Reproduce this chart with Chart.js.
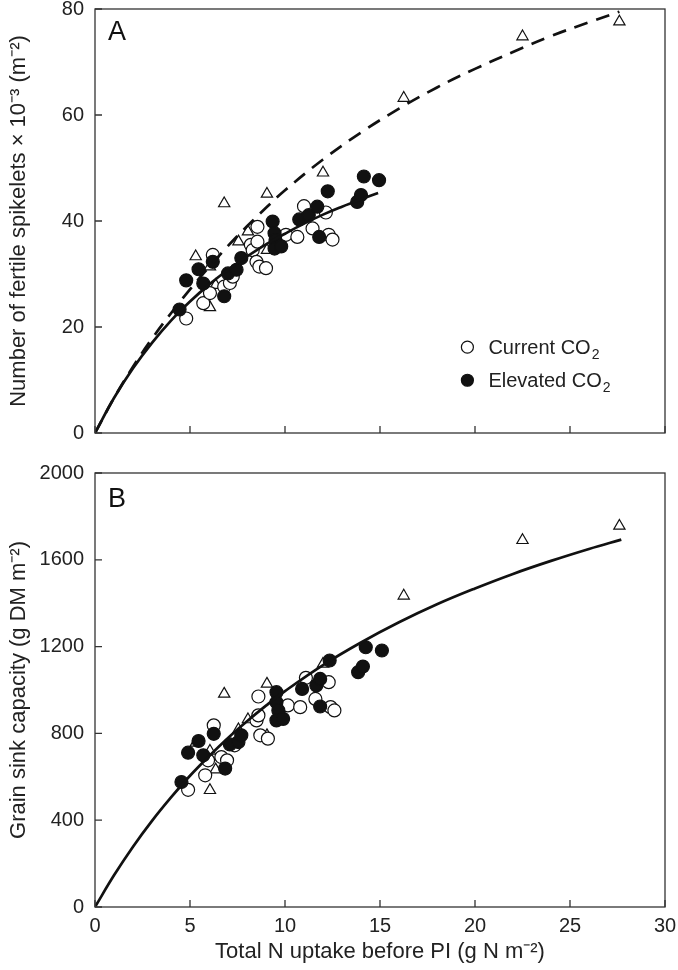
<!DOCTYPE html>
<html>
<head>
<meta charset="utf-8">
<script src="https://cdn.jsdelivr.net/npm/chart.js@4.4.0/dist/chart.umd.min.js"></script>
<style>
  body { margin: 0; background: #fff; }
  canvas { display: block; }
</style>
</head>
<body>
<canvas id="chart-a" width="678" height="460"></canvas>
<canvas id="chart-b" width="678" height="510"></canvas>
<script>
// axis ticks
var xTicks = [0, 5, 10, 15, 20, 25, 30];
var spikeTicks = [0, 20, 40, 60, 80];
var sinkTicks = [0, 400, 800, 1200, 1600, 2000];

// panel A - fertile spikelets (x10^-3 m-2)
var curNA = [4.8, 5.7, 6.05, 6.2, 6.8, 7.1, 7.25, 8.2, 8.3, 8.5, 8.55, 8.55, 8.65, 9.0, 10.05, 10.65, 11.0, 11.45, 12.15, 12.3, 12.5];
var curSpike = [21.6, 24.5, 26.4, 33.6, 27.6, 28.3, 29.5, 35.5, 34.5, 32.3, 38.9, 36.1, 31.4, 31.1, 37.4, 37.0, 42.8, 38.6, 41.6, 37.4, 36.5];
var elvNA = [4.45, 4.8, 5.45, 5.7, 6.2, 6.8, 7.0, 7.45, 7.7, 9.35, 9.45, 9.5, 9.45, 9.8, 10.75, 11.25, 11.7, 11.8, 12.25, 13.8, 14.0, 14.15, 14.95];
var elvSpike = [23.3, 28.8, 30.9, 28.2, 32.3, 25.8, 30.1, 30.8, 33.0, 39.9, 37.7, 36.4, 34.8, 35.2, 40.3, 41.1, 42.7, 37.0, 45.6, 43.6, 44.9, 48.4, 47.7];
var triNA = [5.3, 6.05, 6.05, 6.35, 6.8, 7.55, 8.05, 9.05, 9.05, 12.0, 16.25, 22.5, 27.6];
var triSpike = [33.3, 31.4, 23.7, 27.9, 43.3, 36.1, 38.0, 45.1, 34.5, 49.1, 63.2, 74.8, 77.6];

// fitted curves
var fitNA = [0, 1, 2, 3, 4, 5, 6, 7, 8, 9, 10, 11, 12, 13, 14, 14.9];
var fitSpike = [0, 6.6, 12.2, 17.0, 21.2, 24.8, 28.0, 30.8, 33.3, 35.6, 37.6, 39.5, 41.2, 42.7, 44.1, 45.3];
var allNA = [0, 1, 2, 3, 4, 5, 6, 7, 8, 9, 10, 12, 14, 16, 18, 20, 22, 24, 26, 27.6];
var allSpike = [0, 6.6, 12.5, 17.8, 22.6, 27.1, 31.3, 35.3, 39.0, 42.5, 45.8, 51.6, 56.7, 61.2, 65.2, 68.7, 71.9, 74.9, 77.5, 79.5];

// panel B - grain sink capacity (g DM m-2)
var curNB = [4.9, 5.8, 5.95, 6.25, 6.65, 6.95, 7.35, 8.5, 8.6, 8.6, 8.7, 9.1, 10.15, 10.8, 11.1, 11.6, 12.3, 12.4, 12.6];
var curSink = [540, 607, 676, 837, 691, 676, 745, 860, 970, 883, 791, 776, 929, 921, 1056, 959, 1036, 921, 906];
var elvNB = [4.55, 4.9, 5.45, 5.7, 6.25, 6.85, 7.1, 7.55, 7.7, 9.55, 9.55, 9.65, 9.55, 9.9, 10.9, 11.65, 11.85, 11.85, 12.35, 13.85, 14.1, 14.25, 15.1];
var elvSink = [576, 711, 765, 699, 798, 638, 749, 760, 791, 990, 944, 906, 860, 867, 1005, 1021, 1051, 924, 1136, 1082, 1108, 1197, 1182];
var triNB = [5.3, 6.05, 6.05, 6.35, 6.8, 7.55, 8.05, 9.05, 9.05, 12.0, 16.25, 22.5, 27.6];
var triSink = [756, 719, 538, 633, 982, 818, 864, 1028, 791, 1120, 1434, 1690, 1756];
var fitNB = [0, 1, 2, 3, 4, 5, 6, 7, 8, 9, 10, 12, 14, 16, 18, 20, 22, 24, 26, 27.7];
var fitSink = [0, 146, 278, 397, 505, 605, 695, 779, 856, 928, 995, 1115, 1219, 1312, 1395, 1468, 1535, 1595, 1650, 1693];

var FONT = '"Liberation Sans", Arial, sans-serif';
Chart.defaults.font.family = FONT;
Chart.defaults.color = '#222';

function pts(xs, ys) {
	return xs.map(function (v, i) { return { x: v, y: ys[i] }; });
}

function drawSub(ctx, main, sub, x, y) {
	ctx.font = '20px ' + FONT;
	ctx.fillText(main, x, y);
	var w = ctx.measureText(main).width;
	ctx.font = '14px ' + FONT;
	ctx.fillText(sub, x + w + 1, y + 5);
}

var framePlugin = {
	id: 'frame',
	afterDatasetsDraw: function (chart, args, opts) {
		var ctx = chart.ctx, a = chart.chartArea;
		var x = chart.scales.x, y = chart.scales.y;
		ctx.save();
		ctx.strokeStyle = '#333';
		ctx.lineWidth = 1.3;
		ctx.strokeRect(a.left, a.top, a.width, a.height);
		ctx.beginPath();
		y.ticks.forEach(function (t) {
			var py = y.getPixelForValue(t.value);
			ctx.moveTo(a.left, py); ctx.lineTo(a.left + 7, py);
		});
		x.ticks.forEach(function (t) {
			var px = x.getPixelForValue(t.value);
			ctx.moveTo(px, a.bottom); ctx.lineTo(px, a.bottom - 7);
		});
		ctx.stroke();

		ctx.fillStyle = '#111';
		ctx.font = '27px ' + FONT;
		ctx.textBaseline = 'alphabetic';
		ctx.fillText(opts.letter, a.left + 13, a.top + opts.letterY);

		if (opts.legend) {
			var lx = x.getPixelForValue(19.6);
			var y1 = y.getPixelForValue(16.2), y2 = y.getPixelForValue(9.95);
			ctx.lineWidth = 1.2;
			ctx.strokeStyle = '#111';
			ctx.beginPath(); ctx.arc(lx, y1, 6, 0, Math.PI * 2);
			ctx.fillStyle = '#fff'; ctx.fill(); ctx.stroke();
			ctx.beginPath(); ctx.arc(lx, y2, 6, 0, Math.PI * 2);
			ctx.fillStyle = '#111'; ctx.fill(); ctx.stroke();
			ctx.fillStyle = '#222';
			drawSub(ctx, 'Current CO', '2', lx + 21, y1 + 7);
			drawSub(ctx, 'Elevated CO', '2', lx + 21, y2 + 7);
		}
		ctx.restore();
	}
};

function makeChart(id, cfg) {
	var ctx = document.getElementById(id).getContext('2d');
	return new Chart(ctx, {
		type: 'scatter',
		data: {
			datasets: [
				{ data: pts(cfg.fitX, cfg.fitY), showLine: true, borderColor: '#111', borderWidth: 2.7, pointRadius: 0, tension: 0.4 },
				cfg.dashX ? { data: pts(cfg.dashX, cfg.dashY), showLine: true, borderColor: '#111', borderWidth: 2.7, borderDash: [14, 9], pointRadius: 0, tension: 0.4 } : { data: [] },
				{ data: pts(cfg.elvX, cfg.elvY), pointStyle: 'circle', pointRadius: 6.5, backgroundColor: '#111', borderColor: '#111', borderWidth: 1.2 },
				{ data: pts(cfg.curX, cfg.curY), pointStyle: 'circle', pointRadius: 6.5, backgroundColor: '#fff', borderColor: '#111', borderWidth: 1.2 },
				{ data: pts(cfg.triX, cfg.triY), pointStyle: 'triangle', pointRadius: 6.5, backgroundColor: '#fff', borderColor: '#111', borderWidth: 1.2 }
			]
		},
		options: {
			responsive: false,
			animation: false,
			events: [],
			layout: { padding: { top: cfg.top, right: 13, left: 0, bottom: 0 } },
			plugins: { legend: { display: false }, tooltip: { enabled: false }, frame: { letter: cfg.letter, letterY: cfg.letterY, legend: cfg.legend } },
			scales: {
				x: {
					type: 'linear', min: 0, max: 30,
					afterBuildTicks: function (axis) { axis.ticks = xTicks.map(function (v) { return { value: v }; }); },
					afterFit: function (axis) { axis.height = cfg.xHeight; axis.paddingLeft = 0; axis.paddingRight = 0; },
					grid: { display: false, drawTicks: false },
					border: { display: false },
					ticks: { display: cfg.xLabels, padding: 7, font: { size: 20 }, color: '#222', callback: function (v) { return String(v); } },
					title: { display: cfg.xLabels, text: 'Total N uptake before PI (g N m⁻²)', font: { size: 22 }, color: '#222', padding: { top: 4, bottom: 5 } }
				},
				y: {
					type: 'linear', min: 0, max: cfg.yMax,
					afterBuildTicks: function (axis) { axis.ticks = cfg.yTicks.map(function (v) { return { value: v }; }); },
					afterFit: function (axis) { axis.width = 95; axis.paddingTop = 0; axis.paddingBottom = 0; },
					grid: { display: false, drawTicks: false },
					border: { display: false },
					ticks: { padding: 11, font: { size: 20 }, color: '#222', callback: function (v) { return String(v); } },
					title: { display: true, text: cfg.yTitle, font: { size: 22 }, color: '#222', padding: { top: 6, bottom: 4 } }
				}
			}
		},
		plugins: [framePlugin]
	});
}

var chartA = makeChart('chart-a', {
	letter: 'A', letterY: 31, legend: true, top: 9, xHeight: 27, xLabels: false,
	yMax: 80, yTicks: spikeTicks, yTitle: 'Number of fertile spikelets × 10⁻³ (m⁻²)',
	fitX: fitNA, fitY: fitSpike, dashX: allNA, dashY: allSpike,
	curX: curNA, curY: curSpike, elvX: elvNA, elvY: elvSpike, triX: triNA, triY: triSpike
});

var chartB = makeChart('chart-b', {
	letter: 'B', letterY: 34, legend: false, top: 13, xHeight: 63, xLabels: true,
	yMax: 2000, yTicks: sinkTicks, yTitle: 'Grain sink capacity (g DM m⁻²)',
	fitX: fitNB, fitY: fitSink,
	curX: curNB, curY: curSink, elvX: elvNB, elvY: elvSink, triX: triNB, triY: triSink
});
</script>
</body>
</html>
